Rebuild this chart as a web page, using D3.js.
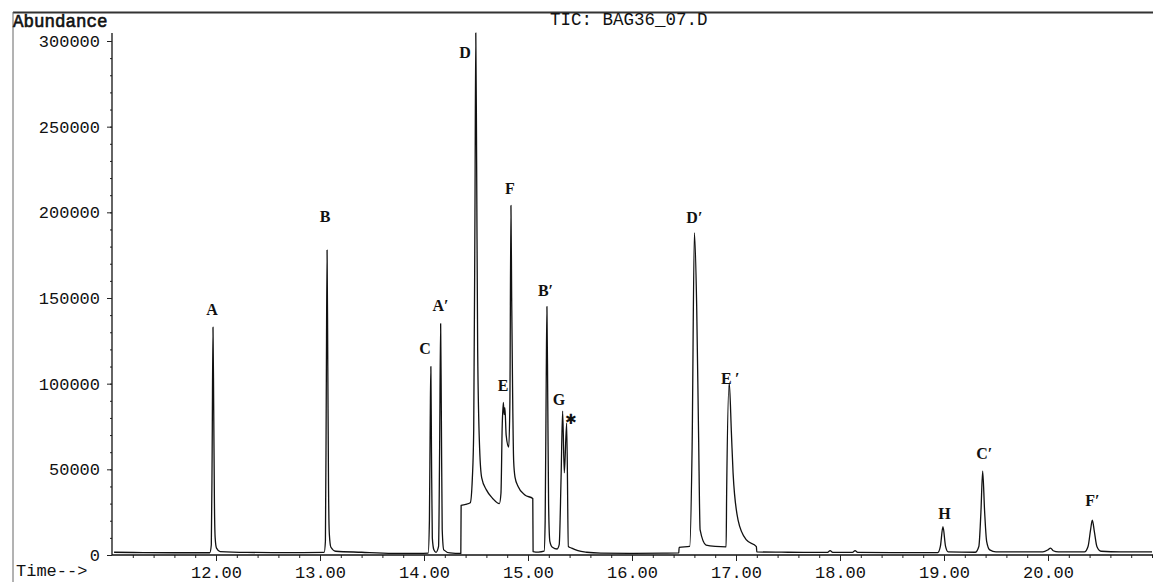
<!DOCTYPE html>
<html>
<head>
<meta charset="utf-8">
<script src="https://cdn.jsdelivr.net/npm/d3@7"></script>
<style>
  body { margin: 0; background: #fff; }
  svg { display: block; }
  .tick text { font-family: "Liberation Mono", "DejaVu Sans Mono", monospace; font-size: 17px; fill: #111; }
</style>
</head>
<body>
<script>
  var times, abundance, labelNames, labelTimes, labelHeights, yTicks, xTicks, xMinor, yMinor;

  // TIC trace (minutes, counts)
  times = [11.02, 11.30, 11.60, 11.94, 11.955, 11.963, 11.971, 11.978, 11.985, 11.992, 12.005, 12.04, 12.30, 12.70,
    13.04, 13.052, 13.060, 13.068, 13.075, 13.082, 13.090, 13.105, 13.15, 13.40, 13.70, 13.95,
    14.04, 14.052, 14.060, 14.066, 14.072, 14.080, 14.095, 14.115, 14.140, 14.150, 14.160, 14.167, 14.175, 14.190, 14.25,
    14.354, 14.357, 14.40, 14.445, 14.465, 14.478, 14.490, 14.498, 14.506, 14.516, 14.535, 14.555, 14.60, 14.66, 14.725,
    14.740, 14.752, 14.763, 14.770, 14.778, 14.790, 14.815, 14.826, 14.836, 14.843, 14.852, 14.862, 14.875, 14.905, 14.970, 15.046,
    15.049, 15.10, 15.155, 15.165, 15.175, 15.182, 15.190, 15.198, 15.210, 15.235, 15.28,
    15.300, 15.318, 15.333, 15.349, 15.372, 15.388, 15.42, 15.48, 15.565, 15.70, 16.00, 16.30,
    16.450, 16.453, 16.555, 16.578, 16.600, 16.622, 16.640, 16.655, 16.712, 16.800, 16.905,
    16.910, 16.935, 16.956, 16.972, 17.020, 17.100, 17.196, 17.200, 17.50,
    17.88, 17.905, 17.93, 18.12, 18.145, 18.17, 18.50,
    18.94, 18.965, 18.99, 19.015, 19.04, 19.30,
    19.335, 19.355, 19.372, 19.39, 19.41, 19.44, 19.50, 19.95, 20.00, 20.025, 20.05, 20.10,
    20.35, 20.385, 20.41, 20.426, 20.445, 20.47, 20.51, 20.70, 21.00];

  abundance = [1600, 1400, 1300, 1300, 6000, 60000, 133000, 85000, 30000, 10000, 4000, 2000, 1500, 1400,
    1500, 8000, 90000, 178000, 110000, 40000, 12000, 4500, 2200, 1600, 1000, 900,
    1100, 20000, 80000, 110000, 60000, 10000, 3000, 1500, 5000, 60000, 135000, 80000, 15000, 3000, 1200,
    900, 29000, 29500, 30500, 45000, 73000, 200000, 305000, 230000, 120000, 62000, 45000, 38000, 33000, 30000,
    36000, 75000, 89000, 82000, 86000, 70000, 63000, 90000, 204000, 150000, 95000, 55000, 45500, 40000, 35000, 33000,
    2000, 1700, 2200, 20000, 100000, 145000, 90000, 30000, 8000, 4500, 3500,
    6000, 45000, 84000, 48000, 77000, 5000, 4000, 2500, 1600, 1100, 1000, 1100,
    1200, 4500, 5000, 63000, 188000, 145000, 71000, 14600, 5800, 5000, 4800,
    36000, 100500, 71000, 47800, 20400, 8800, 4900, 1800, 1600,
    1500, 2500, 1500, 1500, 2500, 1500, 1400,
    1400, 5000, 16500, 5000, 1800, 1600,
    5000, 25000, 49000, 26000, 8000, 3000, 1800, 1800, 3000, 4000, 2500, 1800,
    1800, 5000, 15000, 20400, 14000, 5000, 2200, 1800, 1800];

  labelNames = ["A", "B", "C", "A\u2032", "D", "E", "F", "B\u2032", "G", "\u2731", "D\u2032", "E\u2009\u2032", "H", "C\u2032", "F\u2032"];
  labelTimes = [11.962, 13.048, 14.010, 14.158, 14.394, 14.760, 14.827, 15.168, 15.298, 15.413, 16.600, 16.945, 19.004, 19.388, 20.426];
  labelHeights = [143600, 197900, 120800, 145900, 293600, 99200, 214200, 154400, 91100, 79400, 197000, 103300, 24500, 59500, 32100];

  yTicks = [0, 50000, 100000, 150000, 200000, 250000, 300000];
  xTicks = [12, 13, 14, 15, 16, 17, 18, 19, 20];
  xMinor = d3.range(11.2, 21.01, 0.2);
  yMinor = d3.range(10000, 300001, 10000);

  var width = 1153, height = 582;
  var svg = d3.select('body').append('svg').attr('width', width).attr('height', height);

  var x = d3.scaleLinear().domain([11.0, 21.0]).range([112, 1152]);
  var y = d3.scaleLinear().domain([0, 300000]).range([555, 41]);

  // frame
  svg.append('line').attr('x1', 13).attr('x2', width).attr('y1', 12.5).attr('y2', 12.5)
    .attr('stroke', '#333').attr('stroke-width', 2);
  svg.append('line').attr('x1', 13).attr('x2', 13).attr('y1', 12).attr('y2', height)
    .attr('stroke', '#666').attr('stroke-width', 1);

  // minor ticks
  svg.append('g').attr('transform', 'translate(0,555)')
    .call(d3.axisBottom(x).tickValues(xMinor).tickSize(3).tickFormat(''))
    .call(function(g) { g.select('.domain').remove(); });
  svg.append('g').attr('transform', 'translate(112,0)')
    .call(d3.axisLeft(y).tickValues(yMinor).tickSize(2).tickFormat(''))
    .call(function(g) { g.select('.domain').remove(); });

  // axes
  var xAxis = svg.append('g').attr('transform', 'translate(0,555)')
    .call(d3.axisBottom(x).tickValues(xTicks).tickSize(6).tickPadding(5).tickFormat(d3.format('.2f')));
  xAxis.select('.domain').attr('d', 'M112,0H' + width);

  var yAxis = svg.append('g').attr('transform', 'translate(112,0)')
    .call(d3.axisLeft(y).tickValues(yTicks).tickSize(5).tickPadding(7).tickFormat(d3.format('d')));
  yAxis.select('.domain').attr('d', 'M0,33V555');

  svg.selectAll('.domain').attr('stroke', '#111').attr('stroke-width', 1.3);
  svg.selectAll('.tick line').attr('stroke', '#222');

  // trace
  var pts = times.map(function(t, i) { return [t, abundance[i]]; });
  var line = d3.line()
    .x(function(d) { return x(d[0]); })
    .y(function(d) { return Math.max(33, y(d[1])); })
    .curve(d3.curveMonotoneX);

  svg.append('path').datum(pts).attr('d', line)
    .attr('fill', 'none').attr('stroke', '#111').attr('stroke-width', 1.3).attr('stroke-linejoin', 'round');

  // peak labels
  svg.selectAll('text.peak').data(labelNames).enter().append('text')
    .attr('class', 'peak')
    .attr('x', function(d, i) { return x(labelTimes[i]); })
    .attr('y', function(d, i) { return y(labelHeights[i]); })
    .attr('dy', '0.35em')
    .attr('text-anchor', 'middle')
    .style('font-family', function(d) { return d === '\u2731' ? '"DejaVu Sans", sans-serif' : '"Liberation Serif", serif'; })
    .style('font-size', function(d) { return d === '\u2731' ? '14px' : '16px'; })
    .style('font-weight', 'bold')
    .attr('fill', '#111')
    .text(function(d) { return d; });

  // headings
  svg.append('text').attr('x', 13).attr('y', 27)
    .style('font-family', '"Liberation Mono", monospace').style('font-size', '17.5px')
    .attr('fill', '#111').attr('stroke', '#111').attr('stroke-width', 0.6).text('Abundance');
  svg.append('text').attr('x', 550).attr('y', 25)
    .style('font-family', '"Liberation Mono", monospace').style('font-size', '17.5px')
    .attr('fill', '#111').text('TIC: BAG36_07.D');
  svg.append('text').attr('x', 16).attr('y', 576)
    .style('font-family', '"Liberation Mono", monospace').style('font-size', '17px')
    .attr('fill', '#111').text('Time-->');
</script>
</body>
</html>
